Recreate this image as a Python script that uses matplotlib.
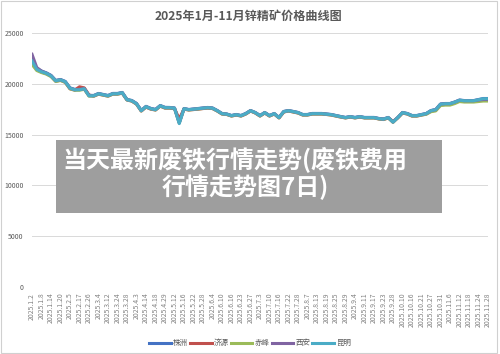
import numpy as np
import matplotlib
matplotlib.use("Agg")
import matplotlib.pyplot as plt
from matplotlib.patches import Rectangle

plt.rcParams["font.family"] = ["Noto Sans CJK SC", "DejaVu Sans"]

# ─── Data ────────────────────────────────────────────────────────────────────
TICK_LABELS = [
    "2025.1.2", "2025.1.8", "2025.1.14", "2025.1.20", "2025.2.5", "2025.2.17",
    "2025.2.26", "2025.3.4", "2025.3.12", "2025.3.24", "2025.3.28", "2025.4.3",
    "2025.4.14", "2025.4.18", "2025.4.29", "2025.5.12", "2025.5.16", "2025.5.22",
    "2025.5.28", "2025.6.4", "2025.6.10", "2025.6.16", "2025.6.23", "2025.6.27",
    "2025.7.3", "2025.7.10", "2025.7.16", "2025.7.22", "2025.7.28", "2025.8.7",
    "2025.8.13", "2025.8.19", "2025.8.25", "2025.8.29", "2025.9.4", "2025.9.11",
    "2025.9.17", "2025.9.23", "2025.9.28", "2025.10.10", "2025.10.16", "2025.10.21",
    "2025.10.27", "2025.10.31", "2025.11.6", "2025.11.12", "2025.11.18",
    "2025.11.24", "2025.11.28",
]

zhuzhou = [
    22350, 21500, 21250, 21080, 20830, 20330, 20420, 20230, 19600, 19450,
    19450, 19540, 18860, 18850, 19050, 18950, 18850, 19050, 19050, 19150,
    18460, 18360, 18070, 17380, 17780, 17580, 17480, 17860, 17680, 17670,
    17620, 16200, 17570, 17470, 17520, 17570, 17620, 17670, 17620, 17370,
    17080, 17030, 16880, 16980, 16880, 17080, 17370, 17180, 16880, 17180,
    16880, 17080, 16690, 17280, 17370, 17280, 17180, 16980, 16980, 17080,
    17080, 17080, 17030, 16980, 16880, 16780, 16690, 16780, 16690, 16780,
    16690, 16690, 16690, 16590, 16540, 16690, 16250, 16690, 17180, 17080,
    16880, 16880, 16980, 17080, 17370, 17470, 18010, 18060, 18060, 18210,
    18400, 18350, 18350, 18350, 18450, 18550, 18550,
]
jiyuan = [
    22300, 21400, 21150, 21000, 20750, 20250, 20350, 20150, 19500, 19380,
    19700, 19600, 18900, 18780, 18980, 18880, 18780, 18980, 18980, 19080,
    18400, 18300, 18000, 17320, 17700, 17500, 17420, 17800, 17600, 17600,
    17550, 16550, 17500, 17420, 17460, 17500, 17560, 17600, 17560, 17320,
    17020, 16980, 16820, 16920, 16820, 17020, 17320, 17120, 16820, 17120,
    16820, 17020, 16640, 17220, 17320, 17220, 17120, 16920, 16920, 17020,
    17020, 17020, 16980, 16920, 16820, 16720, 16640, 16720, 16640, 16720,
    16640, 16640, 16640, 16540, 16480, 16640, 16300, 16640, 17120, 17020,
    16820, 16820, 16920, 17020, 17300, 17400, 17950, 18000, 18000, 18150,
    18330, 18280, 18280, 18280, 18350, 18380, 18380,
]
chifeng = [
    21900, 21300, 21100, 20950, 20700, 20220, 20320, 20130, 19500, 19360,
    19360, 19460, 18780, 18780, 18980, 18880, 18780, 18980, 18980, 19080,
    18400, 18300, 18000, 17320, 17720, 17520, 17420, 17800, 17620, 17620,
    17570, 16150, 17520, 17420, 17470, 17520, 17570, 17620, 17570, 17320,
    17030, 16980, 16830, 16930, 16830, 17030, 17320, 17130, 16830, 17130,
    16830, 17030, 16640, 17230, 17320, 17230, 17130, 16930, 16930, 17030,
    17030, 17030, 16980, 16930, 16830, 16730, 16640, 16730, 16640, 16730,
    16640, 16640, 16640, 16540, 16490, 16640, 16200, 16640, 17130, 17030,
    16830, 16830, 16920, 17000, 17250, 17330, 17850, 17900, 17900, 18050,
    18250, 18200, 18200, 18200, 18250, 18300, 18300,
]
xian = [
    22900, 21600, 21250, 21050, 20800, 20300, 20400, 20200, 19560, 19410,
    19450, 19520, 18830, 18820, 19020, 18920, 18820, 19020, 19020, 19120,
    18430, 18330, 18040, 17350, 17750, 17550, 17450, 17840, 17650, 17650,
    17600, 16150, 17550, 17450, 17500, 17550, 17600, 17650, 17600, 17350,
    17060, 17010, 16860, 16960, 16860, 17060, 17350, 17160, 16860, 17160,
    16860, 17060, 16670, 17260, 17350, 17260, 17160, 16960, 16960, 17060,
    17060, 17060, 17010, 16960, 16860, 16760, 16670, 16760, 16670, 16760,
    16670, 16670, 16670, 16570, 16520, 16670, 16230, 16670, 17160, 17060,
    16860, 16860, 16960, 17060, 17350, 17450, 17990, 18040, 18040, 18190,
    18380, 18330, 18330, 18330, 18400, 18450, 18450,
]
kunming = [
    22250, 21420, 21180, 21030, 20780, 20290, 20390, 20200, 19560, 19410,
    19410, 19510, 18820, 18820, 19020, 18920, 18820, 19020, 19020, 19120,
    18430, 18330, 18040, 17350, 17750, 17550, 17450, 17840, 17650, 17650,
    17600, 16080, 17550, 17450, 17500, 17550, 17600, 17650, 17600, 17350,
    17060, 17010, 16860, 16960, 16860, 17060, 17350, 17160, 16860, 17160,
    16860, 17060, 16670, 17260, 17350, 17260, 17160, 16960, 16960, 17060,
    17060, 17060, 17010, 16960, 16860, 16760, 16670, 16760, 16670, 16760,
    16670, 16670, 16670, 16570, 16520, 16670, 16230, 16670, 17160, 17060,
    16860, 16860, 16960, 17060, 17350, 17450, 17990, 18040, 18040, 18190,
    18380, 18330, 18330, 18330, 18430, 18530, 18530,
]

SERIES = [("株洲", zhuzhou, "#4472c4"), ("济源", jiyuan, "#c0504d"),
          ("赤峰", chifeng, "#9bbb59"), ("西安", xian, "#8064a2"),
          ("昆明", kunming, "#4bacc6")]

TEXT = "#595959"
GRID = "#d9d9d9"

# ─── Figure ──────────────────────────────────────────────────────────────────
fig = plt.figure(figsize=(5.0, 3.54), dpi=100, facecolor="white")
fig.patches.append(Rectangle((0.002, 0.003), 0.992, 0.994, transform=fig.transFigure,
                             fill=False, ec="#d0d0d0", lw=0.8))

ax = fig.add_axes([0.064, 0.189, 0.912, 0.718])
x = np.arange(len(kunming))
for name, vals, col in SERIES:
    ax.plot(x, vals, color=col, lw=2.2, label=name, solid_joinstyle="round")

ax.set_xlim(0, len(kunming) - 1)
ax.set_ylim(0, 25000)
ax.set_yticks(np.arange(0, 25001, 5000))
ax.set_xticks(x[::2])
ax.set_xticklabels(TICK_LABELS, rotation=90, fontsize=4.9, color="#808080")
ax.tick_params(axis="y", labelsize=5.0, colors=TEXT, length=0, pad=6)
ax.tick_params(axis="x", length=0, pad=4)
ax.grid(axis="y", color=GRID, lw=0.7)
ax.set_axisbelow(True)
for sp in ax.spines.values():
    sp.set_visible(False)

fig.text(0.497, 0.955, "2025年1月-11月锌精矿价格曲线图", ha="center", va="center",
         fontsize=8.7, fontweight="bold", color=TEXT)

fig.legend(loc="center", bbox_to_anchor=(0.5, 0.03), ncol=5, frameon=False,
           fontsize=5.4, handlelength=2.9, columnspacing=0.3, handletextpad=0.25,
           labelcolor=TEXT)

# Overlay banner
fig.patches.append(Rectangle((56 / 500, 1 - 213 / 354), 386 / 500, 73 / 354,
                             transform=fig.transFigure, fc="#9e9e9e", ec="none",
                             zorder=10))
fig.text(235 / 500, 1 - 159 / 354, "当天最新废铁行情走势(废铁费用", ha="center",
         va="center", fontsize=17.3, fontweight="bold", color="white", zorder=11)
fig.text(245 / 500, 1 - 187 / 354, "行情走势图7日)", ha="center",
         va="center", fontsize=17.3, fontweight="bold", color="white", zorder=11)

fig.savefig("out.png", dpi=100, facecolor="white")
